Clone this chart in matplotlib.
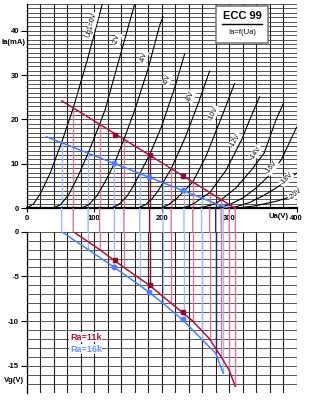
import matplotlib
matplotlib.use("Agg")
import matplotlib.pyplot as plt
import numpy as np
from matplotlib.patches import ConnectionPatch, Rectangle
from matplotlib.lines import Line2D

plt.rcParams["font.family"] = ["Liberation Sans", "DejaVu Sans"]
plt.rcParams["axes.unicode_minus"] = False

# anode characteristics Ia = f(Ua), one list pair per grid voltage
ua_vg0 = [0, 10, 20, 35, 51.7, 69, 90, 112]
ia_vg0 = [0, 1.0, 3.2, 8.0, 14.8, 22.6, 33.5, 46]
ua_vg2 = [38, 50, 62, 76, 91, 108, 116, 135, 160]
ia_vg2 = [0, 0.8, 3.0, 7.2, 12.4, 18.9, 22.1, 32.5, 46]
ua_vg4 = [80, 92, 104, 117, 130, 144, 160, 180, 197, 202]
ia_vg4 = [0, 0.8, 2.8, 6.2, 10.1, 15.5, 22.1, 31.5, 41.2, 43.1]
ua_vg6 = [124, 136, 148, 158, 167.5, 182, 200, 220, 234]
ia_vg6 = [0, 0.8, 2.6, 5.0, 7.8, 12.0, 18.5, 27.5, 34.8]
ua_vg8 = [164, 176, 186, 195, 202, 214, 235, 255, 271]
ia_vg8 = [0, 0.8, 2.2, 4.0, 5.8, 8.9, 16.0, 24.0, 30.9]
ua_vg10 = [198, 210, 222, 233, 246, 265, 290, 308]
ia_vg10 = [0, 0.8, 2.2, 3.9, 5.9, 11.5, 21.0, 28.1]
ua_vg12 = [228, 240, 250, 259, 271, 295, 318, 330, 345]
ia_vg12 = [0, 0.5, 1.3, 2.3, 3.5, 8.5, 15.3, 19.8, 25.1]
ua_vg14 = [250, 262, 272, 280, 288, 310, 335, 352, 369, 380]
ia_vg14 = [0, 0.3, 0.7, 1.1, 1.9, 4.6, 9.0, 12.5, 19.8, 23.5]
ua_vg16 = [268, 280, 291, 300, 320, 340, 360, 377, 400]
ia_vg16 = [0, 0.15, 0.4, 0.8, 2.3, 4.6, 7.5, 10.9, 18.3]
ua_vg18 = [285, 300, 309, 330, 350, 370, 400]
ia_vg18 = [0, 0.15, 0.3, 1.3, 2.8, 4.6, 7.9]
ua_vg20 = [300, 320, 340, 370, 400]
ia_vg20 = [0, 0.2, 0.6, 1.6, 3.0]

curve_labels = ["Ug1=0V", "-2V", "-4V", "-6V", "-8V", "-10V", "-12V", "-14V", "-16V", "-18V", "-20V"]
label_ua = [96.5, 134, 173, 208, 243, 277, 309, 339, 363, 385, 398]
label_ia = [41.2, 38.1, 34.0, 29.1, 25.2, 21.4, 15.3, 12.5, 9.1, 6.6, 3.2]
label_rot = [75, 75, 73, 70, 68, 65, 60, 55, 50, 45, 40]

# load lines (end points)
red_load_ua = [52, 309]
red_load_ia = [24.2, 0]
blue_load_ua = [29.5, 298]
blue_load_ia = [16.1, 0]

# intersections load line / grid curves -> dynamic transfer curve Vg = f(Ua)
red_ua = [69, 108, 144, 182, 214, 246, 271, 288, 300, 309]
red_ia = [22.6, 18.9, 15.5, 11.9, 8.9, 5.9, 3.5, 1.9, 0.8, 0.0]
red_vg = [0, -2, -4, -6, -8, -10, -12, -14, -15.5, -17.3]
blue_ua = [51.7, 91, 130, 167.5, 202, 233, 259, 280, 291]
blue_ia = [14.8, 12.4, 10.1, 7.8, 5.8, 3.9, 2.3, 1.1, 0.4]
blue_vg = [0, -2, -4, -6, -8, -10, -12, -13.6, -15.8]

# working points
red_pt_ua = [131, 182, 231]
red_pt_ia = [16.6, 11.9, 7.3]
red_pt_vg = [-3.2, -6.0, -9.0]
blue_pt_ua = [130, 181, 231]
blue_pt_ia = [10.1, 7.0, 4.1]
blue_pt_vg = [-4.0, -6.8, -9.8]

RED = "#b0123f"
PINK = "#d27a96"
DARK_RED = "#8a0a2c"
BLUE = "#4d7cff"
LIGHT_BLUE = "#a3b6ff"
DARK_BLUE = "#1c2a7a"

fig = plt.figure(figsize=(3.14, 4.0), dpi=100)
W, H = 314.0, 400.0
ax1 = fig.add_axes([26.7 / W, 1 - 208.3 / H, 270 / W, 204.3 / H])
ax2 = fig.add_axes([26.7 / W, 1 - 392.6 / H, 270 / W, 160.9 / H])

for ax in (ax1, ax2):
    ax.set_xlim(0, 400)
    ax.set_xticks(np.arange(0, 401, 20), minor=True)
    ax.grid(which="both", axis="x", color="#1e1e1e", linewidth=0.8, zorder=0)
    ax.grid(which="both", axis="y", color="#3c3c3c", linewidth=0.6, zorder=0)
    ax.set_axisbelow(True)
    ax.tick_params(which="minor", length=0)
    ax.tick_params(which="major", labelsize=5.5, width=0.8, color="black", pad=1.5)
    for side in ("top", "right"):
        ax.spines[side].set_visible(False)
    ax.spines["left"].set_linewidth(0.9)

ax1.set_ylim(0, 46)
ax1.set_yticks(np.arange(0, 41, 10))
ax1.set_yticks(np.arange(0, 47, 1), minor=True)
ax1.set_xticks([0, 100, 200, 300, 400])
ax1.set_xticklabels(["0", "100", "200", "300", "400"], fontweight="bold")
ax1.tick_params(axis="x", length=3, pad=2)
ax1.tick_params(axis="y", length=4)
for t in ax1.get_yticklabels():
    t.set_fontweight("bold")
ax1.spines["bottom"].set_linewidth(1.6)

ax2.set_ylim(-18, 0)
ax2.set_yticks([0, -5, -10, -15])
ax2.set_yticks(np.arange(-18, 1, 1), minor=True)
ax2.set_xticks([])
ax2.tick_params(axis="y", length=4)
for t in ax2.get_yticklabels():
    t.set_fontweight("bold")
ax2.spines["bottom"].set_visible(False)

# vertical projection lines
dark_red_idx = 3
dark_blue_idx = 7
for i, (ua, ia, vg) in enumerate(zip(red_ua, red_ia, red_vg)):
    c = DARK_RED if i == dark_red_idx else PINK
    ax1.plot([ua, ua], [0, ia], color=c, lw=1.0, zorder=1)
    ax2.plot([ua, ua], [vg, 0], color=c, lw=1.0, zorder=1)
    fig.add_artist(ConnectionPatch((ua, 0), (ua, 0), coordsA=ax1.transData,
                                   coordsB=ax2.transData, color=c, lw=1.0))
for i, (ua, ia, vg) in enumerate(zip(blue_ua, blue_ia, blue_vg)):
    c = DARK_BLUE if i == dark_blue_idx else LIGHT_BLUE
    ax1.plot([ua, ua], [0, ia], color=c, lw=1.0, zorder=1)
    ax2.plot([ua, ua], [vg, 0], color=c, lw=1.0, zorder=1)
    fig.add_artist(ConnectionPatch((ua, 0), (ua, 0), coordsA=ax1.transData,
                                   coordsB=ax2.transData, color=c, lw=1.0))

curves = [(ua_vg0, ia_vg0), (ua_vg2, ia_vg2), (ua_vg4, ia_vg4), (ua_vg6, ia_vg6),
          (ua_vg8, ia_vg8), (ua_vg10, ia_vg10), (ua_vg12, ia_vg12), (ua_vg14, ia_vg14),
          (ua_vg16, ia_vg16), (ua_vg18, ia_vg18), (ua_vg20, ia_vg20)]
for ua, ia in curves:
    ax1.plot(ua, ia, color="black", lw=0.8, zorder=2)

for s, x, y, r in zip(curve_labels, label_ua, label_ia, label_rot):
    ax1.text(x, y, s, rotation=r, ha="center", va="center", fontsize=5,
             rotation_mode="anchor", zorder=3, clip_on=False,
             bbox=dict(facecolor="white", edgecolor="none", pad=0.4))

ax1.plot(red_load_ua, red_load_ia, color=RED, lw=1.1, zorder=4)
ax1.plot(blue_load_ua, blue_load_ia, color=BLUE, lw=1.1, zorder=4)
ax1.plot(red_pt_ua, red_pt_ia, ls="none", marker="s", ms=3.2, color=DARK_RED, zorder=5)
ax1.plot(blue_pt_ua, blue_pt_ia, ls="none", marker="o", ms=3.2, color=BLUE, zorder=5)

ax2.plot(red_ua, red_vg, color=RED, lw=1.1, zorder=4)
ax2.plot(blue_ua, blue_vg, color=BLUE, lw=1.1, zorder=4)
ax2.plot(red_pt_ua, red_pt_vg, ls="none", marker="s", ms=3.2, color=DARK_RED, zorder=5)
ax2.plot(blue_pt_ua, blue_pt_vg, ls="none", marker="o", ms=3.2, color=BLUE, zorder=5)

ax2.text(64, -11.8, "Ra=11k", color=RED, fontsize=6.5, fontweight="bold", va="center",
         zorder=6, bbox=dict(facecolor="white", edgecolor="none", pad=0.3))
ax2.text(64, -13.15, "Ra=16k", color="#6d8eff", fontsize=6.5, fontweight="bold",
         va="center", zorder=6, bbox=dict(facecolor="white", edgecolor="none", pad=0.3))

# axis captions
fig.text(14 / W, 1 - 42 / H, "Ia(mA)", fontsize=5.5, fontweight="bold", ha="center", va="center")
fig.text(14 / W, 1 - 380 / H, "Vg(V)", fontsize=5.5, fontweight="bold", ha="center", va="center")
fig.text(289 / W, 1 - 216 / H, "Ua(V)", fontsize=5.5, fontweight="bold", ha="right", va="center")

# title box
fig.add_artist(Rectangle((216 / W, 1 - 43 / H), 52 / W, 37 / H, transform=fig.transFigure,
                         facecolor="white", edgecolor="#808080", lw=1.2, zorder=5))
fig.text(242 / W, 1 - 16 / H, "ECC 99", fontsize=8, fontweight="bold", ha="center",
         va="center", zorder=6)
fig.add_artist(Line2D([222 / W, 262 / W], [1 - 24 / H, 1 - 24 / H], transform=fig.transFigure,
                      color="black", lw=1.0, zorder=6))
fig.text(242 / W, 1 - 32 / H, "Ia=f(Ua)", fontsize=5.5, ha="center", va="center", zorder=6)

fig.savefig("out.png", dpi=100)
